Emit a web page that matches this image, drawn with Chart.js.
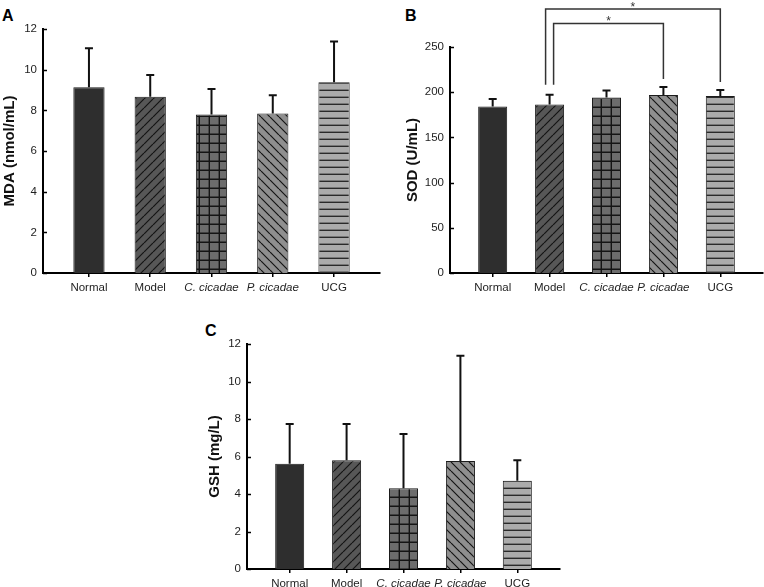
<!DOCTYPE html>
<html>
<head>
<meta charset="utf-8">
<script src="https://cdn.jsdelivr.net/npm/chart.js@4.4.0/dist/chart.umd.min.js"></script>
<style>
  html, body { margin: 0; padding: 0; background: #fff; }
  body { width: 764px; height: 587px; position: relative; overflow: hidden; }
  .painel { position: absolute; }
  .letra { position: absolute; font: bold 16px "Liberation Sans", Arial, sans-serif; color: #000; line-height: 1; }
</style>
</head>
<body>
<div class="letra" style="left:2px;top:8px">A</div>
<div class="letra" style="left:405px;top:8px">B</div>
<div class="letra" style="left:205px;top:323px">C</div>

<div class="painel" style="left:0;top:0;width:382px;height:300px"><canvas id="grafA"></canvas></div>
<div class="painel" style="left:382px;top:0;width:382px;height:300px"><canvas id="grafB"></canvas></div>
<div class="painel" style="left:190px;top:300px;width:380px;height:287px"><canvas id="grafC"></canvas></div>

<script>
// ------------------------------------------------------------
// Dados (média e desvio para cada grupo)
// ------------------------------------------------------------
const grupos = ["Normal", "Model", "C. cicadae", "P. cicadae", "UCG"];
const gruposItalicos = ["C. cicadae", "P. cicadae"];

const mdaMedia  = [9.13, 8.67, 7.79, 7.85, 9.38];
const mdaDesvio = [1.92, 1.07, 1.26, 0.89, 2.00];

const sodMedia  = [184.3, 186.5, 194.2, 196.9, 195.8];
const sodDesvio = [8.2, 10.7, 7.8, 8.8, 6.6];

const gshMedia  = [5.62, 5.80, 4.31, 5.76, 4.71];
const gshDesvio = [2.12, 1.94, 2.89, 5.62, 1.09];

// comparações significativas no painel B (Model x P. cicadae, Model x UCG)
const comparacoesInicio = [2, 2];
const comparacoesFim    = [4, 5];
const comparacoesNivel  = [276, 292];
const comparacoesRotulo = ["*", "*"];

const ticksY_A = [0, 2, 4, 6, 8, 10, 12];
const ticksY_B = [0, 50, 100, 150, 200, 250];
const ticksY_C = [0, 2, 4, 6, 8, 10, 12];

const FONTE = '"Liberation Sans", Arial, sans-serif';
Chart.defaults.font.family = FONTE;
Chart.defaults.color = "#1e1e1e";

// ------------------------------------------------------------
// Padrões de preenchimento das barras (hachuras em tons de cinza)
// ------------------------------------------------------------
function criarPadrao(corFundo, tipo) {
  let w = 9, h = 9;
  if (tipo === "grade") { w = 10; h = 9; }
  if (tipo === "horizontal") { w = 8; h = 7; }
  const c = document.createElement("canvas");
  c.width = w; c.height = h;
  const g = c.getContext("2d");
  g.fillStyle = corFundo;
  g.fillRect(0, 0, w, h);
  g.strokeStyle = "#141414";
  g.lineWidth = 1.2;
  g.beginPath();
  if (tipo === "barra") {
    for (let k = -1; k <= 1; k++) { g.moveTo(k * w, h); g.lineTo(k * w + w, 0); }
  } else if (tipo === "contrabarra") {
    for (let k = -1; k <= 1; k++) { g.moveTo(k * w, 0); g.lineTo(k * w + w, h); }
  } else if (tipo === "grade") {
    g.lineWidth = 1.4;
    g.moveTo(0, h - 0.7); g.lineTo(w, h - 0.7);
    g.moveTo(w - 0.7, 0); g.lineTo(w - 0.7, h);
  } else if (tipo === "horizontal") {
    g.lineWidth = 1.4;
    g.strokeStyle = "#2a2a2a";
    g.moveTo(0, h - 0.7); g.lineTo(w, h - 0.7);
  }
  g.stroke();
  return g.createPattern(c, "repeat");
}

const preenchimentos = [
  "#2e2e2e",
  criarPadrao("#575757", "barra"),
  criarPadrao("#6c6c6c", "grade"),
  criarPadrao("#8f8f8f", "contrabarra"),
  criarPadrao("#ababab", "horizontal"),
];

// ------------------------------------------------------------
// Plugin: barras de erro (só para cima), marcas do eixo Y
// voltadas para dentro e colchetes de significância
// ------------------------------------------------------------
const extrasDoGrafico = {
  id: "extrasDoGrafico",
  afterDatasetsDraw(chart) {
    const ctx = chart.ctx;
    const ds = chart.data.datasets[0];
    const meta = chart.getDatasetMeta(0);
    const y = chart.scales.y;
    const area = chart.chartArea;
    ctx.save();

    // barras de erro
    ctx.strokeStyle = "#111";
    ctx.lineWidth = 2;
    const topos = [];
    ds.desvio.forEach((d, i) => {
      const barra = meta.data[i];
      const yTopo = y.getPixelForValue(ds.media[i] + d);
      topos.push(yTopo);
      ctx.beginPath();
      ctx.moveTo(barra.x, barra.y);
      ctx.lineTo(barra.x, yTopo);
      ctx.moveTo(barra.x - 4, yTopo);
      ctx.lineTo(barra.x + 4, yTopo);
      ctx.stroke();
    });

    // marcas do eixo Y para dentro
    ctx.lineWidth = 1.5;
    ctx.strokeStyle = "#000";
    y.ticks.forEach(t => {
      const py = Math.round(y.getPixelForValue(t.value)) + 0.5;
      ctx.beginPath();
      ctx.moveTo(area.left, py);
      ctx.lineTo(area.left + 4, py);
      ctx.stroke();
    });

    // colchetes de comparação
    if (ds.comparacoes) {
      const cp = ds.comparacoes;
      ctx.strokeStyle = "#333";
      ctx.lineWidth = 1.5;
      ctx.fillStyle = "#333";
      ctx.font = "12px " + FONTE;
      ctx.textAlign = "center";
      ctx.textBaseline = "alphabetic";
      cp.inicio.forEach((ini, k) => {
        const a = ini - 1, b = cp.fim[k] - 1;
        const desloc = cp.fim[k] - ini > 2 ? -4 : 4;
        const xa = meta.data[a].x + desloc;
        const xb = meta.data[b].x;
        const yl = y.getPixelForValue(cp.nivel[k]);
        ctx.beginPath();
        ctx.moveTo(xa, topos[a] - 10);
        ctx.lineTo(xa, yl);
        ctx.lineTo(xb, yl);
        ctx.lineTo(xb, topos[b] - 8);
        ctx.stroke();
        ctx.fillText(cp.rotulo[k], (xa + xb) / 2, yl + 2);
      });
    }
    ctx.restore();
  }
};

// ------------------------------------------------------------
// Cria um painel de barras
// ------------------------------------------------------------
function criarGrafico(id, media, desvio, ticksY, titulo, pad, larguraY, alturaX, comparacoes) {
  const canvas = document.getElementById(id);
  return new Chart(canvas, {
    type: "bar",
    data: {
      datasets: [{
        data: media.map((v, i) => ({ x: i + 1, y: v })),
        media: media,
        desvio: desvio,
        comparacoes: comparacoes,
        backgroundColor: preenchimentos,
        borderColor: "#1c1c1c",
        borderWidth: 1,
        categoryPercentage: 1,
        barPercentage: 0.51,
      }],
    },
    options: {
      animation: false,
      responsive: true,
      maintainAspectRatio: false,
      layout: { padding: pad },
      scales: {
        x: {
          type: "linear",
          offset: false,
          min: 0.25,
          max: 5.75,
          afterBuildTicks: s => { s.ticks = grupos.map((g, i) => ({ value: i + 1 })); },
          afterFit: s => { s.height = alturaX; },
          ticks: {
            autoSkip: false,
            maxRotation: 0,
            padding: 4,
            color: "#1e1e1e",
            font: c => ({
              family: FONTE,
              size: 11.5,
              style: c.tick && gruposItalicos.includes(grupos[c.tick.value - 1]) ? "italic" : "normal",
            }),
            callback: v => grupos[v - 1] || "",
          },
          grid: { display: true, offset: false, drawOnChartArea: false, drawTicks: true, tickLength: 4, color: "#000", lineWidth: 1.5 },
          border: { display: true, color: "#000", width: 2 },
        },
        y: {
          min: ticksY[0],
          max: ticksY[ticksY.length - 1],
          afterBuildTicks: s => { s.ticks = ticksY.map(v => ({ value: v })); },
          afterFit: s => { s.width = larguraY; },
          ticks: { padding: 6, color: "#1e1e1e", font: { size: 11.5 } },
          grid: { display: false, drawTicks: false },
          border: { display: true, color: "#000", width: 2 },
          title: {
            display: true,
            text: titulo,
            color: "#111",
            font: { size: 15, weight: "bold" },
            padding: { top: 1, bottom: 0 },
          },
        },
      },
      plugins: {
        legend: { display: false },
        tooltip: { enabled: false },
      },
    },
    plugins: [extrasDoGrafico],
  });
}

criarGrafico("grafA", mdaMedia, mdaDesvio, ticksY_A, "MDA (nmol/mL)",
  { top: 29, right: 2, left: 0, bottom: 0 }, 43, 27, null);

criarGrafico("grafB", sodMedia, sodDesvio, ticksY_B, "SOD (U/mL)",
  { top: 47, right: 1, left: 21, bottom: 0 }, 47, 27,
  { inicio: comparacoesInicio, fim: comparacoesFim, nivel: comparacoesNivel, rotulo: comparacoesRotulo });

criarGrafico("grafC", gshMedia, gshDesvio, ticksY_C, "GSH (mg/L)",
  { top: 44, right: 10, left: 15, bottom: 0 }, 42, 18, null);
</script>
</body>
</html>
